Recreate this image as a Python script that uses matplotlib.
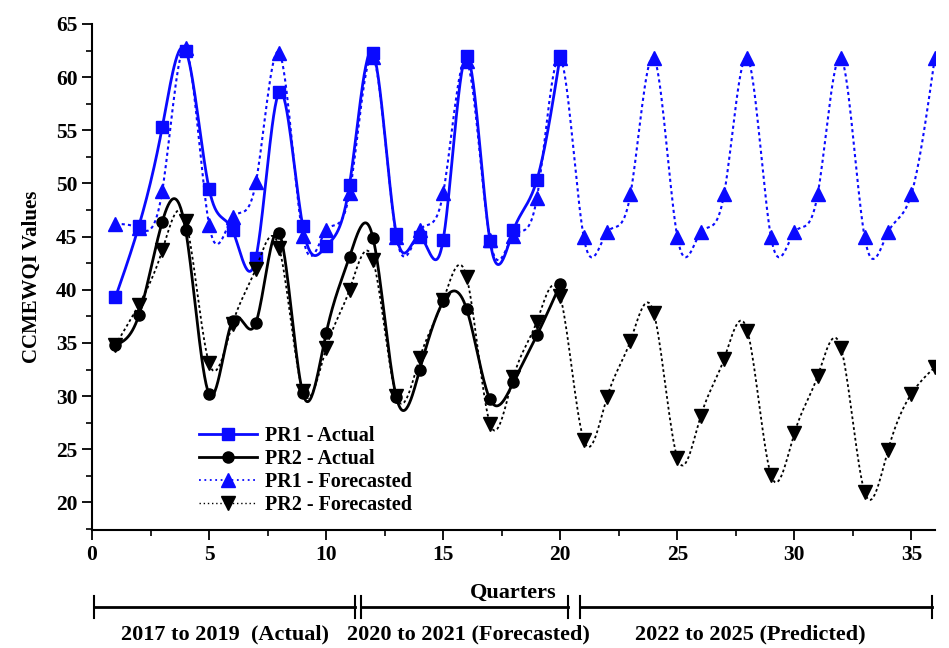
import numpy as np
import matplotlib
matplotlib.use("Agg")
import matplotlib.pyplot as plt

plt.rcParams['font.family'] = ['Liberation Serif', 'DejaVu Serif']
plt.rcParams['font.weight'] = 'bold'

# quarters
q_act = np.arange(1, 21)
q_fc = np.arange(1, 37)

# CCMEWQI values
pr1_actual = [39.3, 46.0, 55.3, 62.5, 49.5, 45.6, 43.0, 58.6, 46.0, 44.1,
              49.9, 62.3, 45.2, 45.0, 44.7, 62.0, 44.6, 45.6, 50.3, 62.0]
pr2_actual = [34.8, 37.6, 46.4, 45.6, 30.2, 37.1, 36.9, 45.3, 30.3, 35.9,
              43.1, 44.9, 29.9, 32.5, 38.9, 38.2, 29.7, 31.3, 35.7, 40.5]
pr1_forecast = [46.2, 45.8, 49.3, 62.7, 46.1, 46.8, 50.1, 62.3, 45.1, 45.6,
                49.1, 61.9, 45.0, 45.6, 49.1, 61.5, 44.7, 45.1, 48.6, 61.8,
                45.0, 45.4, 49.0, 61.8, 45.0, 45.4, 49.0, 61.8, 45.0, 45.4,
                49.0, 61.8, 45.0, 45.4, 49.0, 61.8]
pr2_forecast = [34.8, 38.6, 43.7, 46.5, 33.1, 36.8, 42.0, 43.9, 30.5, 34.5,
                40.0, 42.8, 30.0, 33.6, 39.0, 41.2, 27.4, 31.8, 37.0, 39.4,
                25.9, 29.9, 35.2, 37.8, 24.2, 28.1, 33.5, 36.1, 22.6, 26.5,
                31.9, 34.5, 21.0, 24.9, 30.2, 32.7]

periods = ["2017 to 2019  (Actual)", "2020 to 2021 (Forecasted)", "2022 to 2025 (Predicted)"]


def smooth(x, y, n=600):
    # natural cubic spline through the points
    x = np.asarray(x, float)
    y = np.asarray(y, float)
    h = np.diff(x)
    m = len(x)
    A = np.zeros((m, m))
    b = np.zeros(m)
    A[0, 0] = A[-1, -1] = 1
    for i in range(1, m - 1):
        A[i, i - 1] = h[i - 1]
        A[i, i] = 2 * (h[i - 1] + h[i])
        A[i, i + 1] = h[i]
        b[i] = 6 * ((y[i + 1] - y[i]) / h[i] - (y[i] - y[i - 1]) / h[i - 1])
    M = np.linalg.solve(A, b)
    xs = np.linspace(x[0], x[-1], n)
    k = np.clip(np.searchsorted(x, xs) - 1, 0, m - 2)
    t0 = xs - x[k]
    t1 = x[k + 1] - xs
    hk = h[k]
    ys = (M[k] * t1 ** 3 + M[k + 1] * t0 ** 3) / (6 * hk) \
        + (y[k] / hk - M[k] * hk / 6) * t1 + (y[k + 1] / hk - M[k + 1] * hk / 6) * t0
    return xs, ys


fig = plt.figure(figsize=(9.49, 6.48), dpi=100)
ax = fig.add_axes([0.097, 0.182, 0.888, 0.781])

blue = '#0a0aff'

xs, ys = smooth(q_act, pr1_actual)
ax.plot(xs, ys, color=blue, lw=2)
ax.plot(q_act, pr1_actual, ls='none', marker='s', ms=8, color=blue)

xs, ys = smooth(q_act, pr2_actual)
ax.plot(xs, ys, color='black', lw=2)
ax.plot(q_act, pr2_actual, ls='none', marker='o', ms=8, color='black')

xs, ys = smooth(q_fc, pr1_forecast)
ax.plot(xs, ys, color=blue, lw=1.5, ls=(0, (1.5, 1.5)))
ax.plot(q_fc, pr1_forecast, ls='none', marker='^', ms=10, color=blue)

xs, ys = smooth(q_fc, pr2_forecast)
ax.plot(xs, ys, color='black', lw=1.3, ls=(0, (1.5, 1.5)))
ax.plot(q_fc, pr2_forecast, ls='none', marker='v', ms=10, color='black')

# legend proxies
h1, = ax.plot([], [], color=blue, lw=2, marker='s', ms=8)
h2, = ax.plot([], [], color='black', lw=2, marker='o', ms=8)
h3, = ax.plot([], [], color=blue, lw=1.3, ls=(0, (1, 2)), marker='^', ms=10)
h4, = ax.plot([], [], color='black', lw=1, ls=(0, (1, 2)), marker='v', ms=10)
ax.legend([h1, h2, h3, h4], ["PR1 - Actual", "PR2 - Actual", "PR1 - Forecasted", "PR2 - Forecasted"],
          loc='lower left', bbox_to_anchor=(0.112, 0.005), frameon=False,
          prop={'family': 'Liberation Serif', 'weight': 'bold', 'size': 14.5},
          handlelength=2.9, labelspacing=0.16, handletextpad=0.4, borderaxespad=0.2)

ax.set_xlim(0, 36)
ax.set_ylim(17.4, 65)
ax.set_xticks(np.arange(0, 36, 5))
ax.set_xticks(np.arange(0, 36, 2.5), minor=True)
ax.set_yticks(np.arange(20, 66, 5))
ax.set_yticks(np.arange(17.5, 65.1, 2.5), minor=True)
ax.spines['top'].set_visible(False)
ax.spines['right'].set_visible(False)
ax.spines['left'].set_linewidth(1.5)
ax.spines['bottom'].set_linewidth(1.5)
ax.tick_params(which='major', direction='out', length=7, width=1.3, labelsize=15.5)
ax.tick_params(which='minor', direction='out', length=4, width=1.2)
for lab in ax.get_xticklabels() + ax.get_yticklabels():
    lab.set_fontweight('bold')

ax.set_ylabel("CCMEWQI Values", fontsize=15, fontweight='bold', labelpad=10)
ax.set_xlabel("Quarters", fontsize=16, fontweight='bold', labelpad=13)

# period brackets below the axis
tr = ax.get_xaxis_transform()
segs = [(0.1, 11.25), (11.5, 20.35), (20.85, 35.9)]
centers = [5.7, 16.1, 28.1]
yb = -0.152
for (a, b), c, txt in zip(segs, centers, periods):
    ax.plot([a, b], [yb, yb], color='black', lw=2, transform=tr, clip_on=False)
    for e in (a, b):
        ax.plot([e, e], [yb - 0.022, yb + 0.022], color='black', lw=1.5, transform=tr, clip_on=False)
    ax.text(c, -0.207, txt, transform=tr, ha='center', va='center',
            fontsize=16, fontweight='bold')

fig.savefig("out.png", dpi=100)
